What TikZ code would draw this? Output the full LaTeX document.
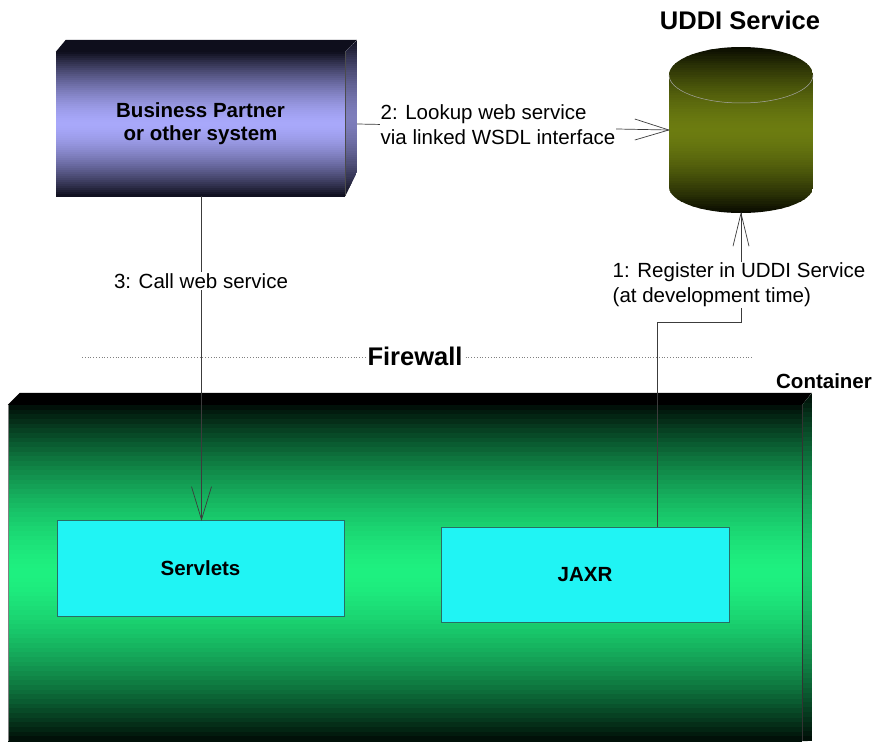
\documentclass[tikz,border=0pt]{standalone}
\usepackage{fontspec}
\setmainfont{Liberation Sans}
\usetikzlibrary{calc}

\definecolor{linegray}{RGB}{60,60,60}
\definecolor{lavender}{RGB}{168,168,250}
\definecolor{nightblue}{RGB}{14,14,28}
\definecolor{olive}{RGB}{108,124,16}
\definecolor{oliveblack}{RGB}{8,10,0}
\definecolor{boxgreen}{RGB}{30,240,128}
\definecolor{greenblack}{RGB}{0,12,6}
\definecolor{cyanbox}{RGB}{32,244,244}
\definecolor{cyanedge}{RGB}{40,110,100}

% vertical gradient built from stripes: x0, x1, y0, y1, middle colour, end colour
\newcommand\vstripes[6]{%
  \pgfmathsetmacro\stripeh{(#4-#3)/72}%
  \foreach \k in {0,...,71}{%
    \pgfmathsetmacro\yA{#3+\stripeh*\k}%
    \pgfmathsetmacro\yB{\yA+\stripeh+0.6}%
    \pgfmathsetmacro\uu{abs(2*(\k+0.5)/72-1)}%
    \pgfmathsetmacro\pc{100*(1-\uu^1.6)}%
    \fill[#5!\pc!#6] (#1,\yA) rectangle (#2,\yB);
  }%
}

\tikzset{
  regular/.style={font=\fontsize{20.5}{25}\selectfont},
  heavy/.style={font=\bfseries\fontsize{20.5}{23}\selectfont},
  title/.style={font=\bfseries\fontsize{25.5}{30}\selectfont},
  conn/.style={draw=linegray, line width=0.7pt},
  lbl/.style={regular, fill=white, inner sep=1pt, align=left},
  component/.style={draw=cyanedge, line width=0.8pt, fill=cyanbox, heavy,
    minimum width=#1, inner sep=0pt},
}

\begin{document}
\begin{tikzpicture}[x=1pt,y=-1pt]
\clip (0,0) rectangle (874,741);
\fill[white] (0,0) rectangle (874,741);

% ---- container (3D box) ----
\node[minimum width=794pt, minimum height=336pt, inner sep=0pt] (cont) at (405,573) {};
\begin{scope}
  \clip (8,405) rectangle (802,741);
  \vstripes{8}{802}{405}{741}{boxgreen}{greenblack}
\end{scope}
\fill[black] (cont.north west) -- ++(12,-12) -- ++(792,0) -- (cont.north east) -- cycle;
\begin{scope}
  \clip (cont.north east) -- ++(10,-12) -- ++(0,348) -- (cont.south east) -- cycle;
  \vstripes{802}{812}{393}{741}{boxgreen!85!black}{greenblack}
\end{scope}
\draw[black!80, line width=0.5pt] (cont.north east) -- (cont.south east);
\draw[black!50, line width=0.4pt] (cont.north west) -- (cont.south west);
\node[heavy] (contlbl) at (824,381) {Container};

% ---- business partner (3D box) ----
\begin{scope}
  \clip (56,52) rectangle (345,196);
  \vstripes{56}{345}{52}{196}{lavender}{nightblue}
\end{scope}
\node[minimum width=289pt, minimum height=144pt, inner sep=0pt, heavy, align=center]
      (bp) at (200.5,124) {Business Partner\\or other system};
\fill[nightblue] (bp.north west) -- ++(10,-12) -- ++(291,0) -- (bp.north east) -- cycle;
\begin{scope}
  \clip (bp.north east) -- ++(12,-12) -- ++(0,132) -- (bp.south east) -- cycle;
  \vstripes{345}{357}{40}{196}{lavender!75!black}{nightblue}
\end{scope}
\draw[black!70, line width=0.5pt] (bp.north east) -- (bp.south east);

% ---- UDDI service (cylinder) ----
\node[minimum width=144pt, minimum height=166pt, inner sep=0pt] (uddi) at (741,130) {};
\begin{scope}
  \clip (669,75) -- (669,187) arc[start angle=180, end angle=360, x radius=72pt, y radius=26pt]
      -- (813,75) arc[start angle=0, end angle=180, x radius=72pt, y radius=28pt] -- cycle;
  \vstripes{669}{813}{47}{213}{olive}{oliveblack}
\end{scope}
\draw[black!35, line width=0.5pt]
      (669,75) arc[start angle=180, end angle=360, x radius=72pt, y radius=28pt];
\node[title] (uddilbl) at (740,20) {UDDI Service};

% ---- components inside the container ----
\node[component=287pt, minimum height=96pt] (servlets) at (200.5,568) {Servlets};
\node[component=288pt, minimum height=95pt] (jaxr) at (585,574.5) {JAXR};

% ---- firewall ----
\coordinate (fwl) at (82,357);
\coordinate (fwr) at (752,357);
\draw[gray, line width=0.8pt, dotted] (fwl) -- (fwr);
\node[title, fill=white, inner sep=2pt] (fw) at (415,356) {Firewall};

% ---- connectors (open V heads) ----
% 1: register
\coordinate (bend1) at (657,322);
\coordinate (bend2) at (741,322);
\draw[conn] (jaxr.north -| bend1) -- (bend1) -- (bend2) -- (uddi.south);
\draw[conn] ($(uddi.south)+(-8,33)$) -- (uddi.south) -- ++(8,33);
\node[lbl] (l1) at (739,285) {1: Register in UDDI Service\\(at development time)};

% 2: lookup
\coordinate (bpside) at ([xshift=12pt]bp.east);
\draw[conn] (bpside) -- (uddi.west);
\draw[conn] ($(uddi.west)+(-34,-11)$) -- (uddi.west) -- ++(-34,10);
\node[lbl] (l2) at (498,125) {2: Lookup web service\\via linked WSDL interface};

% 3: call
\draw[conn] ([xshift=1pt]bp.south) -- ([xshift=1pt]servlets.north);
\draw[conn] ($(servlets.north)+(-9,-33)$) -- ([xshift=1pt]servlets.north) -- ++(10,-33);
\node[lbl] (l3) at (201,281) {3: Call web service};

\end{tikzpicture}
\end{document}
